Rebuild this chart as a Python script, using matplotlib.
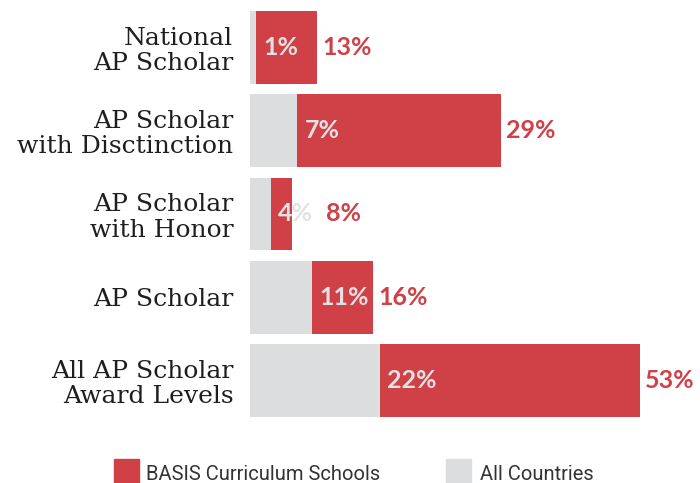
import matplotlib.pyplot as plt
from matplotlib.patches import Rectangle

categories = ["National\nAP Scholar", "AP Scholar\nwith Disctinction", "AP Scholar\nwith Honor",
              "AP Scholar", "All AP Scholar\nAward Levels"]
# printed percentages
basis_pct = [13, 29, 8, 16, 53]
all_pct = [1, 7, 4, 11, 22]
# bar lengths as drawn in the picture (same units as the 53% bar)
basis_bar = [9.1, 34.0, 5.7, 16.7, 52.8]
all_bar = [0.8, 6.4, 2.8, 8.4, 17.6]

red = "#cf4047"
grey = "#dcdddf"

plt.rcParams['figure.figsize'] = 7, 4.83
fig = plt.figure(dpi=100)
ax = fig.add_axes([250 / 700, 1 - 422 / 483, 450 / 700, 416 / 483])

y = range(len(categories))
ax.barh(y, basis_bar, height=0.877, color=red, zorder=1)
ax.barh(y, all_bar, height=0.877, color=grey, zorder=2)

for i in y:
    ax.text(all_bar[i] + 1.0, i, f"{all_pct[i]}%", va="center", ha="left",
            color="#e2e2e2", fontsize=18, fontweight="bold", family="Lato", zorder=3)
    lab_x = max(basis_bar[i], all_bar[i] + 6.8) + 0.7
    ax.text(lab_x, i, f"{basis_pct[i]}%", va="center", ha="left",
            color=red, fontsize=18, fontweight="bold", family="Lato", zorder=3)

ax.set_xlim(0, 61)
ax.set_ylim(4.5, -0.5)
ax.set_yticks(list(y))
ax.set_yticklabels(categories, family="DejaVu Serif", fontsize=18, color="#1e1e1e",
                   linespacing=1.12)
ax.tick_params(axis="y", length=0, pad=12)
ax.set_xticks([])
for s in ax.spines.values():
    s.set_visible(False)

# legend
fig.patches.append(Rectangle((114 / 700, 1 - 484 / 483), 25 / 700, 25 / 483,
                             transform=fig.transFigure, color=red))
fig.text(146 / 700, 1 - 474 / 483, "BASIS Curriculum Schools", fontsize=14.5,
         family="Roboto", color="#333333", va="center", ha="left")
fig.patches.append(Rectangle((446 / 700, 1 - 484 / 483), 25 / 700, 25 / 483,
                             transform=fig.transFigure, color=grey))
fig.text(480 / 700, 1 - 474 / 483, "All Countries", fontsize=14.5,
         family="Roboto", color="#333333", va="center", ha="left")

plt.savefig("out.png", dpi=100)
